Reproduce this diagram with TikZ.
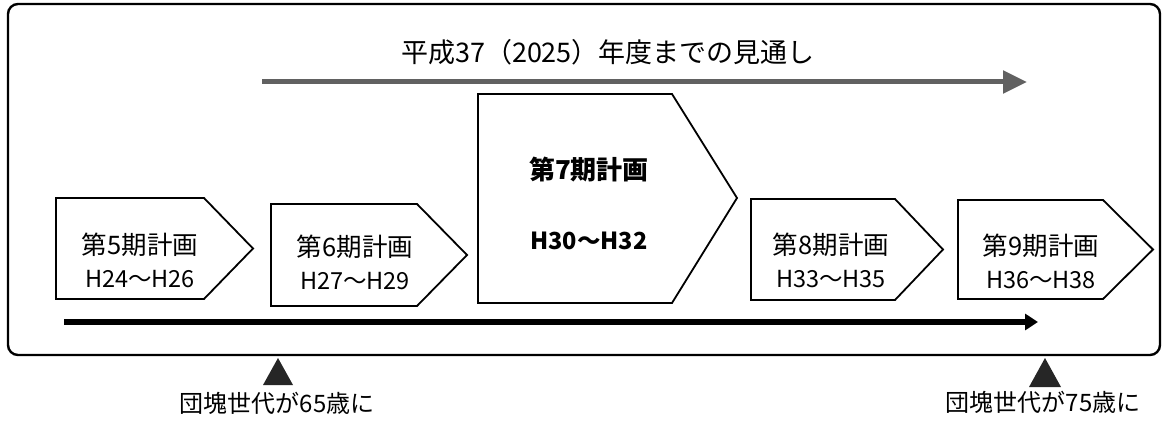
\documentclass[tikz,border=0pt]{standalone}
\usepackage{fontspec}
\setmainfont{Noto Sans CJK JP}
\usetikzlibrary{arrows.meta}

\newcommand{\yearsize}{\fontsize{23.5}{33}\selectfont}

\begin{document}
\begin{tikzpicture}[
    x=1pt, y=-1pt,
    frame/.style={
        draw,
        line width=2.4pt,
        rounded corners=10pt
    },
    planbox/.style={
        draw,
        line width=1.8pt,
        line join=miter
    },
    plantext/.style={
        align=center,
        inner sep=0pt,
        font=\fontsize{25.5}{33}\selectfont
    },
    outlook/.style={
        draw=black!62,
        line width=5pt,
        -{Triangle[length=24pt,width=22pt]}
    },
    timeline/.style={
        draw,
        line width=6pt,
        -{Triangle[length=13pt,width=16pt]}
    },
    marker/.style={
        fill=black!85
    },
    agelabel/.style={
        inner sep=0pt,
        font=\fontsize{24}{24}\selectfont
    }
]

\useasboundingbox (0,0) rectangle (1163,428);

% Frame
\draw [frame] (8,4) rectangle (1160,355);

% Title
\node [inner sep=0pt, font=\fontsize{27}{27}\selectfont] (title) at (608,52) {平成37（2025）年度までの見通し};

% Outlook arrow
\coordinate (outlook-start) at (262,82);
\coordinate (outlook-end) at (1027,82);
\draw [outlook] (outlook-start) -- (outlook-end);

% Plan boxes
\foreach \n/\l/\t/\r/\p/\b/\x/\ty/\yrs in {
    5/56/198/204/253/299/140/260/H24〜H26,
    6/271/204/417/467/306/355/262/H27〜H29,
    8/751/199/895/943/300/831/260/H33〜H35,
    9/958/200/1103/1153/299/1041/261/H36〜H38}
{
    \draw [planbox] (\l,\t) -- (\r,\t) -- (\p,{(\t+\b)/2}) -- (\r,\b) -- (\l,\b) -- cycle;
    \node [plantext] (plan-\n) at (\x,\ty) {第\n 期計画\\\yearsize\yrs};
}

% Plan 7
\draw [planbox] (478,94) -- (672,94) -- (737,198) -- (672,303) -- (478,303) -- cycle;
\node [plantext, font=\fontsize{26}{70}\selectfont\bfseries] (plan-7) at (589,203) {第7期計画\\\fontsize{23.5}{70}\selectfont H30〜H32};

% Timeline
\coordinate (time-start) at (64,322);
\coordinate (time-end) at (1038,322);
\draw [timeline] (time-start) -- (time-end);

% Markers
\fill [marker] (278,358) -- (293,385) -- (263,385) -- cycle;
\fill [marker] (1045,358) -- (1061,387) -- (1029,387) -- cycle;

\node [agelabel] (age-65) at (277,403) {団塊世代が65歳に};
\node [agelabel] (age-75) at (1043,402) {団塊世代が75歳に};

\end{tikzpicture}
\end{document}
